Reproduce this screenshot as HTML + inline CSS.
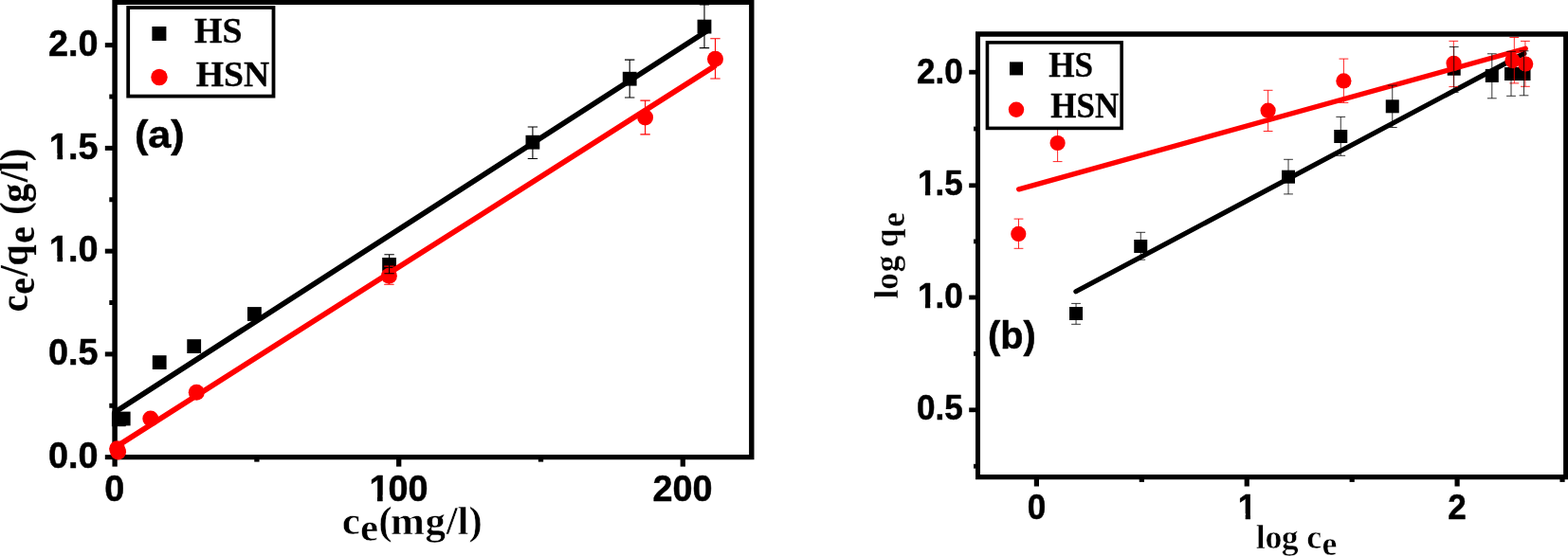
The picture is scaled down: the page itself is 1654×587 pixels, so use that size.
<!DOCTYPE html>
<html lang="en"><head><meta charset="utf-8"><title>Adsorption isotherm plots</title>
<style>
html,body{margin:0;padding:0;background:#fff;overflow:hidden}
svg{display:block}
text{white-space:pre;font-weight:bold}
.s{font-family:"Liberation Sans",sans-serif}
.t{font-family:"Liberation Serif",serif}
</style>
</head><body>
<svg width="1654" height="587" viewBox="0 0 1654 587" role="img" aria-label="Adsorption isotherm plots (a) and (b)">
<defs><clipPath id="k1"><path d="M-38.35,-57.52H91.66V38.35H-38.35ZM2.06,-6.17H9.61V1.92H2.06ZM15.37,-6.17H22.39V1.92H15.37Z" clip-rule="evenodd"/></clipPath><clipPath id="k2"><path d="M-38.35,-57.52H91.66V38.35H-38.35ZM2.06,-6.17H9.61V1.92H2.06ZM15.37,-6.17H22.39V1.92H15.37Z" clip-rule="evenodd"/></clipPath><clipPath id="k3"><path d="M-38.35,-57.52H102.33V38.35H-38.35ZM2.06,-6.17H9.61V1.92H2.06ZM15.37,-6.17H22.39V1.92H15.37Z" clip-rule="evenodd"/></clipPath><clipPath id="k4"><path d="M-37.01,-55.51H88.45V37.01H-37.01ZM2.06,-6.03H9.34V1.85H2.06ZM14.91,-6.03H21.67V1.85H14.91Z" clip-rule="evenodd"/></clipPath><clipPath id="k5"><path d="M-37.01,-55.51H88.45V37.01H-37.01ZM2.06,-6.03H9.34V1.85H2.06ZM14.91,-6.03H21.67V1.85H14.91Z" clip-rule="evenodd"/></clipPath><clipPath id="k6"><path d="M-37.01,-55.51H57.59V37.01H-37.01ZM2.06,-6.03H9.34V1.85H2.06ZM14.91,-6.03H21.67V1.85H14.91Z" clip-rule="evenodd"/></clipPath></defs>
<rect width="1654" height="587" fill="#fff"/>
<g id="plot-a">
<path d="M118.35,-1H795.5V485.2H118.35ZM123.85,5.1V480.05H790.1V5.1Z" fill="#000" fill-rule="evenodd"/>
<line x1="110.80" y1="482.65" x2="121.10" y2="482.65" stroke="#000" stroke-width="5.0" stroke-linecap="butt"/>
<line x1="110.80" y1="373.90" x2="121.10" y2="373.90" stroke="#000" stroke-width="5.0" stroke-linecap="butt"/>
<line x1="110.80" y1="265.15" x2="121.10" y2="265.15" stroke="#000" stroke-width="5.0" stroke-linecap="butt"/>
<line x1="110.80" y1="156.40" x2="121.10" y2="156.40" stroke="#000" stroke-width="5.0" stroke-linecap="butt"/>
<line x1="110.80" y1="47.65" x2="121.10" y2="47.65" stroke="#000" stroke-width="5.0" stroke-linecap="butt"/>
<line x1="115.30" y1="428.27" x2="121.10" y2="428.27" stroke="#000" stroke-width="5.0" stroke-linecap="butt"/>
<line x1="115.30" y1="319.52" x2="121.10" y2="319.52" stroke="#000" stroke-width="5.0" stroke-linecap="butt"/>
<line x1="115.30" y1="210.77" x2="121.10" y2="210.77" stroke="#000" stroke-width="5.0" stroke-linecap="butt"/>
<line x1="115.30" y1="102.02" x2="121.10" y2="102.02" stroke="#000" stroke-width="5.0" stroke-linecap="butt"/>
<line x1="121.10" y1="482.65" x2="121.10" y2="492.60" stroke="#000" stroke-width="5.3" stroke-linecap="butt"/>
<line x1="420.70" y1="482.65" x2="420.70" y2="492.60" stroke="#000" stroke-width="5.3" stroke-linecap="butt"/>
<line x1="720.30" y1="482.65" x2="720.30" y2="492.60" stroke="#000" stroke-width="5.3" stroke-linecap="butt"/>
<line x1="270.90" y1="482.65" x2="270.90" y2="487.60" stroke="#000" stroke-width="5.3" stroke-linecap="butt"/>
<line x1="570.50" y1="482.65" x2="570.50" y2="487.60" stroke="#000" stroke-width="5.3" stroke-linecap="butt"/>
<line x1="121.20" y1="435.10" x2="745.00" y2="33.20" stroke="#000" stroke-width="5.7" stroke-linecap="round"/>
<rect x="117.90" y="435.40" width="14.8" height="14.8" fill="#000"/>
<rect x="122.80" y="434.60" width="14.8" height="14.8" fill="#000"/>
<rect x="160.80" y="375.20" width="14.8" height="14.8" fill="#000"/>
<rect x="197.30" y="358.20" width="14.8" height="14.8" fill="#000"/>
<rect x="261.00" y="324.10" width="14.8" height="14.8" fill="#000"/>
<rect x="403.20" y="272.00" width="14.8" height="14.8" fill="#000"/>
<rect x="554.50" y="142.80" width="14.8" height="14.8" fill="#000"/>
<rect x="656.80" y="75.80" width="14.8" height="14.8" fill="#000"/>
<rect x="735.60" y="20.70" width="14.8" height="14.8" fill="#000"/>
<line x1="122.00" y1="472.00" x2="753.50" y2="70.00" stroke="#ff0000" stroke-width="5.7" stroke-linecap="round"/>
<circle cx="123.60" cy="473.80" r="8.5" fill="#f00"/>
<circle cx="124.60" cy="476.90" r="8.5" fill="#f00"/>
<circle cx="158.80" cy="442.10" r="8.5" fill="#f00"/>
<circle cx="207.30" cy="414.20" r="8.5" fill="#f00"/>
<circle cx="410.40" cy="291.30" r="8.5" fill="#f00"/>
<circle cx="680.60" cy="123.90" r="8.5" fill="#f00"/>
<circle cx="754.50" cy="62.30" r="8.5" fill="#f00"/>
<path d="M405.20,281.10H415.60M405.20,300.20H415.60M410.40,281.10V300.20" fill="none" stroke="#ff0000" stroke-width="1.1"/>
<path d="M675.40,106.10H685.80M675.40,141.90H685.80M680.60,106.10V141.90" fill="none" stroke="#ff0000" stroke-width="1.1"/>
<path d="M749.30,40.70H759.70M749.30,83.00H759.70M754.50,40.70V83.00" fill="none" stroke="#ff0000" stroke-width="1.1"/>
<path d="M405.40,268.80H415.80M405.40,288.70H415.80M410.60,268.80V288.70" fill="none" stroke="#000" stroke-width="1.1"/>
<path d="M556.70,134.00H567.10M556.70,167.50H567.10M561.90,134.00V167.50" fill="none" stroke="#000" stroke-width="1.1"/>
<path d="M659.00,63.10H669.40M659.00,103.00H669.40M664.20,63.10V103.00" fill="none" stroke="#000" stroke-width="1.1"/>
<path d="M737.80,5.00H748.20M737.80,50.60H748.20M743.00,5.00V50.60" fill="none" stroke="#000" stroke-width="1.1"/>
<text transform="translate(50.96,494.38) scale(0.9857,1)" class="s" font-size="38.35" fill="#000" stroke="#000" stroke-width="0.5" stroke-linejoin="round">0.0</text>
<text transform="translate(50.96,384.98) scale(0.9857,1)" class="s" font-size="38.35" fill="#000" stroke="#000" stroke-width="0.5" stroke-linejoin="round">0.5</text>
<text transform="translate(50.96,276.28) scale(0.9857,1)" class="s" font-size="38.35" fill="#000" stroke="#000" stroke-width="0.5" stroke-linejoin="round" x="0.91 21.33 31.98" clip-path="url(#k1)">1.0</text>
<text transform="translate(50.96,167.88) scale(0.9857,1)" class="s" font-size="38.35" fill="#000" stroke="#000" stroke-width="0.5" stroke-linejoin="round" x="0.91 21.33 31.98" clip-path="url(#k2)">1.5</text>
<text transform="translate(50.96,58.98) scale(0.9857,1)" class="s" font-size="38.35" fill="#000" stroke="#000" stroke-width="0.5" stroke-linejoin="round">2.0</text>
<text transform="translate(110.22,528.63) scale(0.9857,1)" class="s" font-size="38.35" fill="#000" stroke="#000" stroke-width="0.5" stroke-linejoin="round">0</text>
<text transform="translate(388.50,528.63) scale(0.9857,1)" class="s" font-size="38.35" fill="#000" stroke="#000" stroke-width="0.5" stroke-linejoin="round" x="0.91 21.33 42.65" clip-path="url(#k3)">100</text>
<text transform="translate(688.59,528.63) scale(0.9857,1)" class="s" font-size="38.35" fill="#000" stroke="#000" stroke-width="0.5" stroke-linejoin="round">200</text>
<rect x="135.2" y="8.0" width="153.3" height="93.6" fill="#fff" stroke="#000" stroke-width="3.8"/>
<rect x="160.40" y="28.00" width="15" height="15" fill="#000"/>
<circle cx="168.00" cy="81.50" r="8.7" fill="#f00"/>
<text transform="translate(205.00,44.78) scale(1.0025,1)" class="t" font-size="37.80" fill="#000" stroke="#000" stroke-width="0.3" stroke-linejoin="round">HS</text>
<text transform="translate(206.71,90.83) scale(0.9956,1)" class="t" font-size="37.88" fill="#000" stroke="#000" stroke-width="0.3" stroke-linejoin="round">HSN</text>
<text transform="translate(141.95,155.95) scale(1.0532,1)" class="s" font-size="40.98" fill="#000" stroke="#000" stroke-width="0.5" stroke-linejoin="round">(a)</text>
<text transform="translate(361.90,564.20) scale(1.0200,1)" class="t" font-size="42.20" fill="#000" stroke="#fff" stroke-width="0.5" stroke-linejoin="round" x="-1.08 17.67 36.55 49.08 84.93 106.63 118.25 129.94" y="0.00 7.20 0.00 0.00 0.00 0.00 0.00 0.00">ce(mg/l)</text>
<text transform="translate(29.20,327.75) rotate(-90) scale(0.9250,1)" class="t" font-size="43.00" fill="#000" stroke="#000" stroke-width="0.2" stroke-linejoin="round" x="-1.72 18.44 39.31 51.04 76.87 95.96 109.07 123.33 146.66 158.78 170.61" y="0.00 7.20 0.00 0.00 7.20 0.00 0.00 0.00 0.00 0.00 0.00">ce/qe (g/l)</text>
</g>
<g id="plot-b">
<path d="M1029.0,33.15H1656V506.3H1029.0ZM1034.0,38.8V501.1H1649.1V38.8Z" fill="#000" fill-rule="evenodd"/>
<line x1="1022.20" y1="432.80" x2="1031.90" y2="432.80" stroke="#000" stroke-width="4.8" stroke-linecap="butt"/>
<line x1="1022.20" y1="314.00" x2="1031.90" y2="314.00" stroke="#000" stroke-width="4.8" stroke-linecap="butt"/>
<line x1="1022.20" y1="195.80" x2="1031.90" y2="195.80" stroke="#000" stroke-width="4.8" stroke-linecap="butt"/>
<line x1="1022.20" y1="76.20" x2="1031.90" y2="76.20" stroke="#000" stroke-width="4.8" stroke-linecap="butt"/>
<line x1="1027.00" y1="492.20" x2="1031.90" y2="492.20" stroke="#000" stroke-width="4.8" stroke-linecap="butt"/>
<line x1="1027.00" y1="373.40" x2="1031.90" y2="373.40" stroke="#000" stroke-width="4.8" stroke-linecap="butt"/>
<line x1="1027.00" y1="254.90" x2="1031.90" y2="254.90" stroke="#000" stroke-width="4.8" stroke-linecap="butt"/>
<line x1="1027.00" y1="136.00" x2="1031.90" y2="136.00" stroke="#000" stroke-width="4.8" stroke-linecap="butt"/>
<line x1="1093.40" y1="503.80" x2="1093.40" y2="513.50" stroke="#000" stroke-width="5.2" stroke-linecap="butt"/>
<line x1="1315.25" y1="503.80" x2="1315.25" y2="513.50" stroke="#000" stroke-width="5.2" stroke-linecap="butt"/>
<line x1="1537.10" y1="503.80" x2="1537.10" y2="513.50" stroke="#000" stroke-width="5.2" stroke-linecap="butt"/>
<line x1="1204.33" y1="503.80" x2="1204.33" y2="508.90" stroke="#000" stroke-width="5.2" stroke-linecap="butt"/>
<line x1="1426.18" y1="503.80" x2="1426.18" y2="508.90" stroke="#000" stroke-width="5.2" stroke-linecap="butt"/>
<line x1="1648.03" y1="503.80" x2="1648.03" y2="508.90" stroke="#000" stroke-width="5.2" stroke-linecap="butt"/>
<line x1="1134.90" y1="307.80" x2="1607.80" y2="56.40" stroke="#000" stroke-width="5.2" stroke-linecap="round"/>
<rect x="1128.05" y="324.00" width="14" height="14" fill="#000"/>
<rect x="1196.25" y="253.00" width="14" height="14" fill="#000"/>
<rect x="1352.00" y="179.70" width="14" height="14" fill="#000"/>
<rect x="1407.25" y="137.00" width="14" height="14" fill="#000"/>
<rect x="1461.75" y="105.30" width="14" height="14" fill="#000"/>
<rect x="1526.70" y="65.70" width="14" height="14" fill="#000"/>
<rect x="1566.80" y="72.90" width="14" height="14" fill="#000"/>
<rect x="1587.00" y="71.00" width="14" height="14" fill="#000"/>
<rect x="1600.50" y="71.00" width="14" height="14" fill="#000"/>
<line x1="1074.70" y1="199.90" x2="1609.20" y2="51.30" stroke="#ff0000" stroke-width="5.3" stroke-linecap="round"/>
<circle cx="1074.30" cy="246.90" r="8.1" fill="#f00"/>
<circle cx="1115.60" cy="151.00" r="8.1" fill="#f00"/>
<circle cx="1337.60" cy="116.70" r="8.1" fill="#f00"/>
<circle cx="1417.40" cy="85.40" r="8.1" fill="#f00"/>
<circle cx="1533.50" cy="66.80" r="8.1" fill="#f00"/>
<circle cx="1595.50" cy="64.10" r="8.1" fill="#f00"/>
<circle cx="1609.20" cy="67.50" r="8.1" fill="#f00"/>
<path d="M1069.60,231.10H1079.40M1069.60,262.30H1079.40M1074.50,231.10V262.30" fill="none" stroke="#ff0000" stroke-width="0.85"/>
<path d="M1110.70,131.40H1120.50M1110.70,170.60H1120.50M1115.60,131.40V170.60" fill="none" stroke="#ff0000" stroke-width="0.85"/>
<path d="M1332.70,95.30H1342.50M1332.70,138.50H1342.50M1337.60,95.30V138.50" fill="none" stroke="#ff0000" stroke-width="0.85"/>
<path d="M1412.50,62.10H1422.30M1412.50,108.40H1422.30M1417.40,62.10V108.40" fill="none" stroke="#ff0000" stroke-width="0.85"/>
<path d="M1528.40,43.35H1538.20M1528.40,91.60H1538.20M1533.30,43.35V91.60" fill="none" stroke="#ff0000" stroke-width="0.85"/>
<path d="M1592.40,39.50H1602.20M1592.40,87.90H1602.20M1597.30,39.50V87.90" fill="none" stroke="#ff0000" stroke-width="0.85"/>
<path d="M1604.00,43.40H1613.80M1604.00,91.30H1613.80M1608.90,43.40V91.30" fill="none" stroke="#ff0000" stroke-width="0.85"/>
<path d="M1130.15,320.40H1139.95M1130.15,342.30H1139.95M1135.05,320.40V342.30" fill="none" stroke="#000" stroke-width="0.8"/>
<path d="M1198.35,245.30H1208.15M1198.35,274.20H1208.15M1203.25,245.30V274.20" fill="none" stroke="#000" stroke-width="0.8"/>
<path d="M1354.10,168.30H1363.90M1354.10,204.90H1363.90M1359.00,168.30V204.90" fill="none" stroke="#000" stroke-width="0.8"/>
<path d="M1409.35,123.40H1419.15M1409.35,164.30H1419.15M1414.25,123.40V164.30" fill="none" stroke="#000" stroke-width="0.8"/>
<path d="M1463.85,90.10H1473.65M1463.85,134.50H1473.65M1468.75,90.10V134.50" fill="none" stroke="#000" stroke-width="0.8"/>
<path d="M1528.80,49.50H1538.60M1528.80,97.40H1538.60M1533.70,49.50V97.40" fill="none" stroke="#000" stroke-width="0.8"/>
<path d="M1568.90,56.80H1578.70M1568.90,103.80H1578.70M1573.80,56.80V103.80" fill="none" stroke="#000" stroke-width="0.8"/>
<path d="M1589.10,54.30H1598.90M1589.10,101.30H1598.90M1594.00,54.30V101.30" fill="none" stroke="#000" stroke-width="0.8"/>
<path d="M1602.60,53.80H1612.40M1602.60,100.80H1612.40M1607.50,53.80V100.80" fill="none" stroke="#000" stroke-width="0.8"/>
<text transform="translate(967.09,443.39) scale(0.9486,1)" class="s" font-size="37.01" fill="#000" stroke="#000" stroke-width="0.5" stroke-linejoin="round">0.5</text>
<text transform="translate(967.09,324.99) scale(0.9486,1)" class="s" font-size="37.01" fill="#000" stroke="#000" stroke-width="0.5" stroke-linejoin="round" x="0.95 20.58 30.86" clip-path="url(#k4)">1.0</text>
<text transform="translate(967.09,206.49) scale(0.9486,1)" class="s" font-size="37.01" fill="#000" stroke="#000" stroke-width="0.5" stroke-linejoin="round" x="0.95 20.58 30.86" clip-path="url(#k5)">1.5</text>
<text transform="translate(967.09,87.59) scale(0.9486,1)" class="s" font-size="37.01" fill="#000" stroke="#000" stroke-width="0.5" stroke-linejoin="round">2.0</text>
<text transform="translate(1083.74,548.09) scale(0.9486,1)" class="s" font-size="37.01" fill="#000" stroke="#000" stroke-width="0.5" stroke-linejoin="round">0</text>
<text transform="translate(1304.86,548.10) scale(0.9486,1)" class="s" font-size="37.01" fill="#000" stroke="#000" stroke-width="0.5" stroke-linejoin="round" x="0.95" clip-path="url(#k6)">1</text>
<text transform="translate(1527.23,548.10) scale(0.9486,1)" class="s" font-size="37.01" fill="#000" stroke="#000" stroke-width="0.5" stroke-linejoin="round">2</text>
<rect x="1041.45" y="44.85" width="141.7" height="90.55" fill="#fff" stroke="#000" stroke-width="3.6"/>
<rect x="1065.00" y="65.40" width="14" height="14" fill="#000"/>
<circle cx="1072.00" cy="115.70" r="8.2" fill="#f00"/>
<text transform="translate(1106.15,80.69) scale(0.9458,1)" class="t" font-size="37.21" fill="#000" stroke="#000" stroke-width="0.3" stroke-linejoin="round">HS</text>
<text transform="translate(1108.25,124.49) scale(0.9405,1)" class="t" font-size="37.21" fill="#000" stroke="#000" stroke-width="0.3" stroke-linejoin="round">HSN</text>
<text transform="translate(1042.12,368.26) scale(0.9884,1)" class="s" font-size="40.18" fill="#000" stroke="#000" stroke-width="0.5" stroke-linejoin="round">(b)</text>
<text transform="translate(1325.80,579.30) scale(1.0300,1)" class="t" font-size="34.80" fill="#000" stroke="#fff" stroke-width="0.5" stroke-linejoin="round" x="-0.97 8.41 25.28 42.68 50.95 66.74" y="0.00 0.00 0.00 0.00 0.00 6.60">log ce</text>
<text transform="translate(947.00,314.60) rotate(-90)" class="t" font-size="35.20" fill="#000" stroke="#fff" stroke-width="0.3" stroke-linejoin="round" x="-0.83 8.85 27.46 45.06 53.70 74.84" y="0.00 0.00 0.00 0.00 0.00 7.00">log qe</text>
</g>
</svg>
</body></html>
